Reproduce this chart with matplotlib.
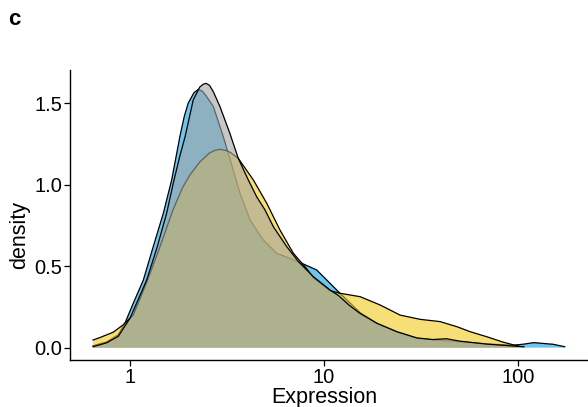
import numpy as np
import matplotlib.pyplot as plt
from matplotlib.colors import to_rgba

plt.rcParams["font.family"] = ["Liberation Sans", "DejaVu Sans"]

# density curves; positions are log10(Expression)
blue_log = [-0.19, -0.12, -0.06, -0.026, 0.017, 0.069, 0.12, 0.172, 0.215, 0.258,
            0.28, 0.30, 0.33, 0.352, 0.372, 0.39, 0.43, 0.481, 0.515, 0.567,
            0.619, 0.687, 0.756, 0.825, 0.885, 0.962, 1.031, 1.082, 1.186, 1.272,
            1.375, 1.478, 1.598, 1.70, 1.839, 1.976, 2.03, 2.08, 2.18, 2.24]
blue_dens = [0.012, 0.035, 0.08, 0.15, 0.272, 0.415, 0.62, 0.825, 1.029, 1.30,
             1.42, 1.50, 1.565, 1.585, 1.575, 1.55, 1.479, 1.294, 1.16, 0.947,
             0.783, 0.661, 0.579, 0.548, 0.518, 0.477, 0.395, 0.334, 0.215, 0.15,
             0.098, 0.058, 0.045, 0.037, 0.023, 0.015, 0.022, 0.031, 0.021, 0.006]

yellow_log = [-0.19, -0.155, -0.086, -0.035, 0.017, 0.086, 0.155, 0.22, 0.27, 0.309,
              0.36, 0.41, 0.44, 0.464, 0.49, 0.515, 0.558, 0.636, 0.705, 0.773,
              0.842, 0.902, 0.945, 1.031, 1.082, 1.186, 1.289, 1.392, 1.495, 1.598,
              1.684, 1.753, 1.839, 1.92, 1.976, 2.0]
yellow_dens = [0.047, 0.062, 0.095, 0.14, 0.20, 0.40, 0.62, 0.84, 0.98, 1.06,
               1.14, 1.195, 1.212, 1.217, 1.212, 1.20, 1.162, 1.029, 0.886, 0.722,
               0.579, 0.497, 0.43, 0.35, 0.334, 0.313, 0.262, 0.20, 0.174, 0.16,
               0.129, 0.098, 0.067, 0.035, 0.017, 0.012]

grey_log = [-0.19, -0.12, -0.06, 0.0, 0.034, 0.086, 0.141, 0.189, 0.227, 0.258,
            0.284, 0.326, 0.36, 0.378, 0.392, 0.41, 0.43, 0.464, 0.515, 0.558,
            0.61, 0.653, 0.696, 0.739, 0.808, 0.868, 0.945, 1.031, 1.074, 1.13,
            1.186, 1.272, 1.375, 1.478, 1.56, 1.63, 1.70, 1.839, 1.976, 2.03]
grey_dens = [0.006, 0.03, 0.07, 0.18, 0.272, 0.415, 0.62, 0.825, 1.029, 1.18,
             1.294, 1.52, 1.60, 1.617, 1.622, 1.61, 1.57, 1.479, 1.315, 1.162,
             1.029, 0.926, 0.845, 0.742, 0.62, 0.528, 0.436, 0.354, 0.32, 0.26,
             0.21, 0.15, 0.098, 0.06, 0.05, 0.055, 0.04, 0.022, 0.01, 0.006]

# drawing order: blue at the bottom, grey on top
series = [
    (blue_log, blue_dens, "#0da0e3"),
    (yellow_log, yellow_dens, "#f3ca1c"),
    (grey_log, grey_dens, "#a3a3a3"),
]

fig = plt.figure(figsize=(5.88, 4.07), dpi=100)
ax = fig.add_axes([0.119, 0.1155, 0.881, 0.7125])

z = 2
for lx, dens, col in series:
    x = 10 ** np.array(lx)
    ax.fill_between(x, dens, 0, facecolor=to_rgba(col, 0.6), linewidth=0, zorder=z)
    ax.plot(x, dens, color="black", lw=0.9, zorder=z + 0.5)
    z += 1

ax.set_xscale("log")
ax.set_xlim(0.491, 229)
ax.set_ylim(-0.0755, 1.704)
ax.set_xticks([1, 10, 100])
ax.set_xticklabels(["1", "10", "100"])
ax.minorticks_off()
ax.set_yticks([0.0, 0.5, 1.0, 1.5])
ax.set_yticklabels(["0.0", "0.5", "1.0", "1.5"])

for side in ["top", "right"]:
    ax.spines[side].set_visible(False)
for side in ["left", "bottom"]:
    ax.spines[side].set_linewidth(1.0)
ax.tick_params(axis="both", length=4, width=0.9, labelsize=14.5, colors="black", pad=1.5)

# axis titles placed in figure coordinates
fig.text(0.551, 0.011, "Expression", fontsize=15.5, ha="center", va="baseline")
fig.text(0.034, 0.423, "density", fontsize=15.5, rotation=90, ha="center", va="center")

fig.text(0.014, 0.938, "c", fontsize=16, fontweight="bold", va="baseline")

fig.savefig("out.png", dpi=100)
